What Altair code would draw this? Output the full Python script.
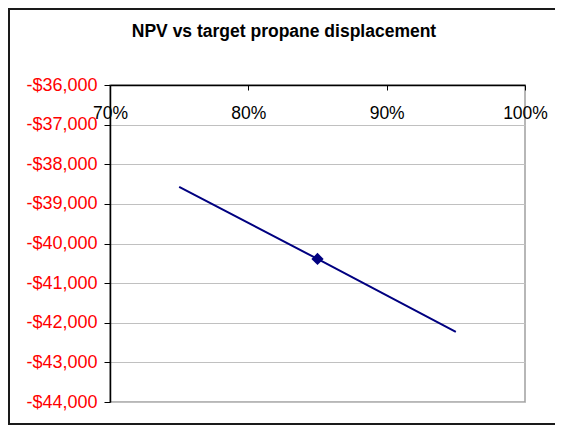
import altair as alt
import pandas as pd

# ---- data ----
displacement = [0.75, 0.85, 0.95]
npv = [-38570, -40390, -42230]
marker_displacement = [0.85]
marker_npv = [-40390]
x_ticks = [0.7, 0.8, 0.9, 1.0]
y_ticks = [-36000, -37000, -38000, -39000, -40000, -41000, -42000, -43000, -44000]
title_text = "NPV vs target propane displacement"

W, H = 415, 317
FONT = "Liberation Sans"

line_df = pd.DataFrame({"disp": displacement, "npv": npv})
mark_df = pd.DataFrame({"disp": marker_displacement, "npv": marker_npv})

x_enc = alt.X(
    "disp:Q",
    scale=alt.Scale(domain=[0.7, 1.0], nice=False, zero=False),
    axis=alt.Axis(
        values=x_ticks, format=".0%", orient="bottom", offset=-H, grid=False,
        domainColor="black", domainWidth=1.5, tickColor="black", tickSize=5,
        labelPadding=14, labelFontSize=17.5, labelColor="black", labelFont=FONT,
        labelFlush=False, labelOverlap=False, title=None,
    ),
)
y_enc = alt.Y(
    "npv:Q",
    scale=alt.Scale(domain=[-44000, -36000], nice=False, zero=False),
    axis=alt.Axis(
        values=y_ticks, tickCount=9, labelExpr="'-$' + format(abs(datum.value), ',')",
        grid=True, gridColor="#c0c0c0", gridWidth=1,
        domainColor="black", domainWidth=1.5, tickColor="black", tickSize=6,
        labelPadding=7, labelFontSize=18, labelColor="#ff0000", labelFont=FONT,
        labelFlush=False, labelOverlap=False, title=None,
    ),
)

line = alt.Chart(line_df).mark_line(color="#000080", strokeWidth=2).encode(x=x_enc, y=y_enc)
points = alt.Chart(mark_df).mark_point(
    shape="diamond", filled=True, color="#000080", size=150, opacity=1
).encode(x=x_enc, y=y_enc)

# outer chart-area frame (left, top, bottom edges; right edge lies outside the picture)
one = pd.DataFrame({"k": [0]})
frame_style = dict(color="#1a1a1a", strokeWidth=2, clip=False)
frame_left = alt.Chart(one).mark_rule(**frame_style).encode(
    x=alt.value(-101), y=alt.value(-77), y2=alt.value(H + 23)
)
frame_top = alt.Chart(one).mark_rule(**frame_style).encode(
    x=alt.value(-102), x2=alt.value(W + 120), y=alt.value(-76)
)
frame_bottom = alt.Chart(one).mark_rule(**frame_style).encode(
    x=alt.value(-102), x2=alt.value(W + 120), y=alt.value(H + 22)
)

chart = (
    alt.layer(line, points, frame_left, frame_top, frame_bottom)
    .properties(
        width=W,
        height=H,
        title=alt.Title(
            title_text, fontSize=17.5, font=FONT, fontWeight="bold", color="black",
            anchor="middle", dx=-33.5, offset=-47, baseline="alphabetic",
        ),
        autosize=alt.AutoSizeParams(type="none"),
        padding={"left": 102, "top": 77, "right": 30, "bottom": 23},
        background="white",
    )
    .configure_view(stroke="#a0a0a0", strokeWidth=1.5)
)

chart.save("out.html", embed_options={"renderer": "svg", "actions": False})
